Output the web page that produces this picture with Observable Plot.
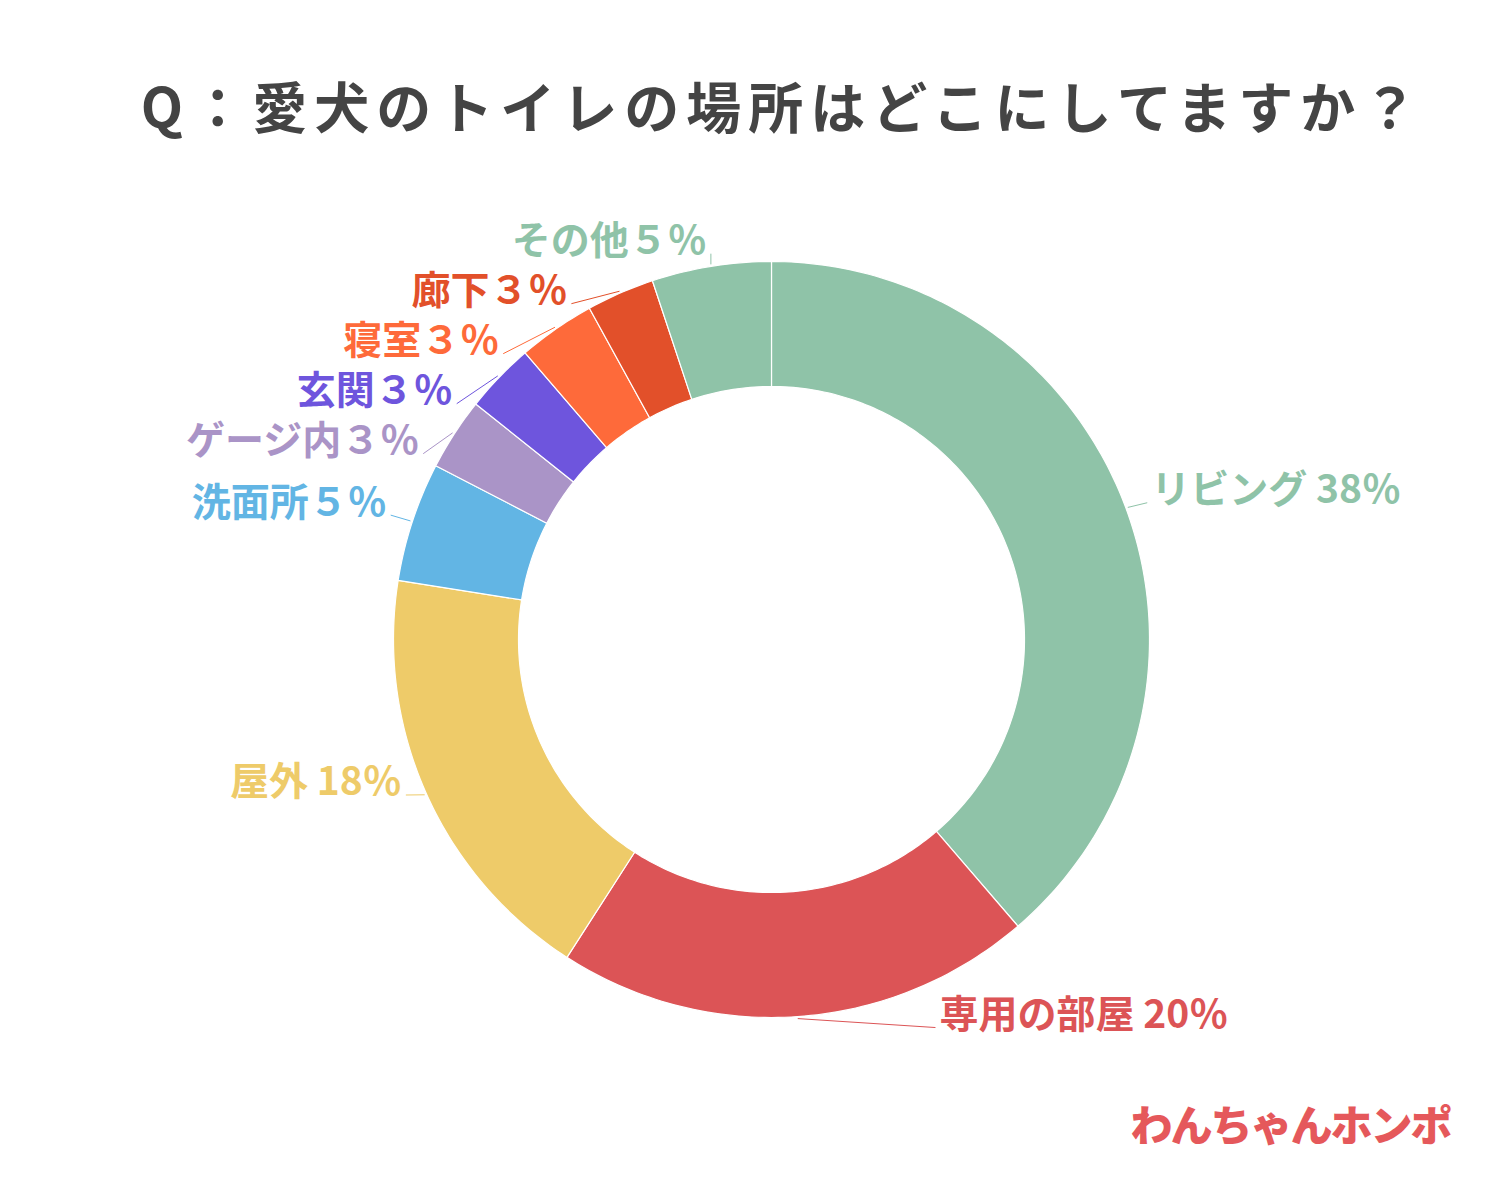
<!DOCTYPE html>
<html><head><meta charset="utf-8">
<script src="https://cdn.jsdelivr.net/npm/d3@7"></script>
<script src="https://cdn.jsdelivr.net/npm/@observablehq/plot@0.6"></script>
<style>
body{margin:0;background:#fff;}
</style></head><body><div id="chart"></div>
<script>
// ---- data ----
const titleText = "Q：愛犬のトイレの場所はどこにしてますか？";
const categories = ["リビング","専用の部屋","屋外","洗面所","ゲージ内","玄関","寝室","廊下","その他"];
const shares = [38.7, 20.4, 18.4, 5.1, 3.1, 3.0, 3.3, 2.9, 5.1];
const percentLabels = [" 38％"," 20％"," 18％","５％","３％","３％","３％","３％","５％"];
const colors = ["#8fc3a8","#dc5456","#eecb69","#62b5e4","#aa94c7","#6e55dd","#fe6a3a","#e2502a","#8fc3a8"];
const brandText = "わんちゃんホンポ";

// ---- layout ----
const W = 1500, H = 1200;
const cx = 771, cy = 639, Ro = 378, Ri = 253, Rl = 405, gap = 50;
const labelNudge = {"専用の部屋": [140, -20], "屋外": [0, -14], "洗面所": [0, -12]};
const FONT = "'Noto Sans CJK JP','Noto Sans',sans-serif";

const total = d3.sum(shares);
let acc = 0;
const slices = categories.map((name, i) => {
  const a0 = acc / total * 2 * Math.PI;
  acc += shares[i];
  const a1 = acc / total * 2 * Math.PI;
  return {name, a0, a1, mid: (a0 + a1) / 2, text: name + percentLabels[i]};
});
const px = (r, a) => cx + r * Math.sin(a);
const py = (r, a) => cy - r * Math.cos(a);

// polygon points for each slice
const ringPts = [];
slices.forEach(s => {
  const n = Math.max(6, Math.ceil((s.a1 - s.a0) * 180 / Math.PI));
  const pts = [];
  for (let k = 0; k <= n; k++) { const a = s.a0 + (s.a1 - s.a0) * k / n; pts.push([px(Ro, a), py(Ro, a)]); }
  for (let k = n; k >= 0; k--) { const a = s.a0 + (s.a1 - s.a0) * k / n; pts.push([px(Ri, a), py(Ri, a)]); }
  pts.push(pts[0]);
  pts.forEach(p => ringPts.push({name: s.name, x: p[0], y: p[1]}));
});

// label placement
const labels = slices.map(s => ({name: s.name, text: s.text, mid: s.mid,
  ex: px(Ro + 2, s.mid), ey: py(Ro + 2, s.mid),
  x: px(Rl, s.mid), y: py(Rl, s.mid), right: Math.sin(s.mid) >= 0}));
const left = labels.filter(d => !d.right && Math.cos(d.mid) > 0).sort((a, b) => a.y - b.y);
for (let i = 1; i < left.length; i++) left[i].y = Math.max(left[i].y, left[i - 1].y + gap);
left.forEach(d => { const dy = d.y - cy; d.x = cx - Math.sqrt(Math.max(0, Rl * Rl - dy * dy)); d.y += 10; });
labels.forEach(d => { const nd = labelNudge[d.name]; if (nd) { d.x += nd[0]; d.y += nd[1]; } });
labels.forEach(d => { d.lx = d.right ? d.x - 4 : d.x + 4; d.ly = d.y + 4; d.ty = d.y - 8; });

const chart = Plot.plot({
  width: W, height: H, margin: 0,
  x: {domain: [0, W], range: [0, W], axis: null},
  y: {domain: [0, H], range: [0, H], axis: null},
  color: {domain: categories, range: colors},
  style: {fontFamily: FONT, background: "#fff"},
  marks: [
    Plot.line(ringPts, {x: "x", y: "y", z: "name", fill: "name", stroke: "#fff", strokeWidth: 1.2, strokeLinejoin: "round", curve: "linear"}),
    Plot.link(labels, {x1: "ex", y1: "ey", x2: "lx", y2: "ly", stroke: "name", strokeWidth: 1}),
    Plot.text(labels.filter(d => d.right), {x: "x", y: "ty", text: "text", fill: "name", textAnchor: "start", fontSize: 39, fontWeight: 700}),
    Plot.text(labels.filter(d => !d.right), {x: "x", y: "ty", text: "text", fill: "name", textAnchor: "end", fontSize: 39, fontWeight: 700}),
    Plot.text([titleText], {x: () => 782, y: () => 110, text: d => d, fill: "#444", fontSize: 55, fontWeight: 700}),
    Plot.text([brandText], {x: () => 1450, y: () => 1127, text: d => d, fill: "#e5585b", fontSize: 42, fontWeight: 900, textAnchor: "end"})
  ]
});
d3.select(chart).selectAll("text").filter(function() { return this.textContent === titleText; }).attr("letter-spacing", 7);
d3.select(chart).selectAll("text").filter(function() { return this.textContent === brandText; }).attr("letter-spacing", -2);
document.getElementById("chart").append(chart);
</script></body></html>
